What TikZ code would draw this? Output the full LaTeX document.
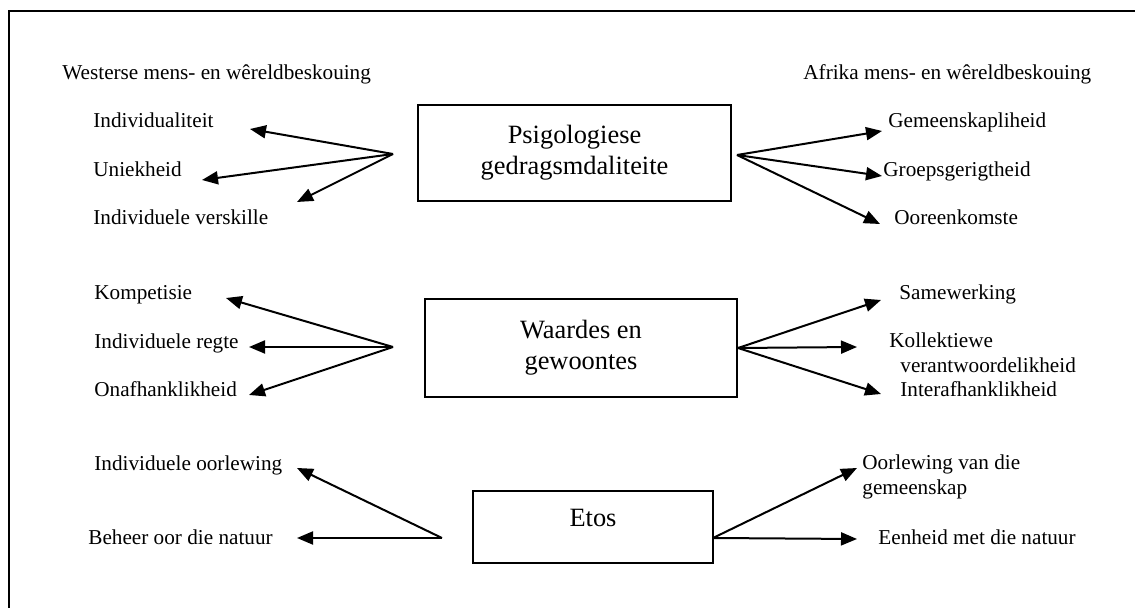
\documentclass[tikz,border=0pt]{standalone}
\usepackage{fontspec}
\setmainfont{Liberation Serif}
\usetikzlibrary{arrows.meta}
\begin{document}
\begin{tikzpicture}[x=0.5pt, y=-0.5pt,
    txt/.style={inner sep=0pt, anchor=base west, align=left, font=\fontsize{10.6}{12.5}\selectfont},
    box/.style={draw, line width=1pt, align=center, font=\fontsize{13.2}{15.5}\selectfont},
    arr/.style={-{Triangle[length=8pt,width=6.5pt]}, line width=1pt}]
    \useasboundingbox (0,0) rectangle (1135,608);
    \draw[line width=1pt] (9,620) -- (9,11) -- (1145,11);
    % boxes
    \node (psi)[box, minimum width=156.5pt, minimum height=48pt] at (574.5,153) {Psigologiese\\gedragsmdaliteite};
    \node (waa)[box, minimum width=156pt, minimum height=49pt] at (581,348) {Waardes en\\gewoontes};
    \node (eto)[box, minimum width=120pt, inner ysep=0pt, text height=18pt, text depth=18pt] at (593,527) {Etos};
    % headings
    \node (wes)[txt] at (62,80) {Westerse mens- en wêreldbeskouing};
    \node (afr)[txt] at (803,80) {Afrika mens- en wêreldbeskouing};
    % left side
    \node (ind)[txt] at (93,128) {Individualiteit};
    \node (uni)[txt] at (93,177) {Uniekheid};
    \node (ivs)[txt] at (93,225) {Individuele verskille};
    \node (kom)[txt] at (94,300) {Kompetisie};
    \node (reg)[txt] at (94,349) {Individuele regte};
    \node (ona)[txt] at (94,397) {Onafhanklikheid};
    \node (ioo)[txt] at (94,471) {Individuele oorlewing};
    \node (beh)[txt] at (88,545) {Beheer oor die natuur};
    % right side
    \node (gem)[txt] at (888,128) {Gemeenskapliheid};
    \node (gro)[txt] at (883,177) {Groepsgerigtheid};
    \node (ooe)[txt] at (894,225) {Ooreenkomste};
    \node (sam)[txt] at (899,300) {Samewerking};
    \node (kol)[txt] at (889,373) {Kollektiewe\\\hspace*{5.5pt}verantwoordelikheid};
    \node (int)[txt] at (900,397) {Interafhanklikheid};
    \node (oog)[txt] at (862,495) {Oorlewing van die\\gemeenskap};
    \node (een)[txt] at (878,545) {Eenheid met die natuur};
    % fan points
    \coordinate (psiL) at (393,154);
    \coordinate (psiR) at (737,155);
    \coordinate (waaL) at (393,347);
    \coordinate (waaR) at (waa.east);
    \coordinate (etoL) at (442,538);
    \coordinate (etoR) at (713,538);
    % arrow tips
    \coordinate (tind) at (250,129);
    \coordinate (tuni) at (202,180);
    \coordinate (tivs) at (297,202);
    \coordinate (tgem) at (882,131);
    \coordinate (tgro) at (882,176);
    \coordinate (tooe) at (880,224);
    \coordinate (tkom) at (226,298);
    \coordinate (treg) at (249,347);
    \coordinate (tona) at (249,395);
    \coordinate (tsam) at (881,300);
    \coordinate (tkol) at (857,347);
    \coordinate (tint) at (881,394);
    \coordinate (tioo) at (297,468);
    \coordinate (tbeh) at (297,538);
    \coordinate (toog) at (857,468);
    \coordinate (teen) at (857,539);
    \draw[arr] (psiL) to (tind);
    \draw[arr] (psiL) to (tuni);
    \draw[arr] (psiL) to (tivs);
    \draw[arr] (psiR) to (tgem);
    \draw[arr] (psiR) to (tgro);
    \draw[arr] (psiR) to (tooe);
    \draw[arr] (waaL) to (tkom);
    \draw[arr] (waaL) to (treg);
    \draw[arr] (waaL) to (tona);
    \draw[arr] (waaR) to (tsam);
    \draw[arr] (waaR) to (tkol);
    \draw[arr] (waaR) to (tint);
    \draw[arr] (etoL) to (tioo);
    \draw[arr] (etoL) to (tbeh);
    \draw[arr] (etoR) to (toog);
    \draw[arr] (etoR) to (teen);
\end{tikzpicture}
\end{document}
